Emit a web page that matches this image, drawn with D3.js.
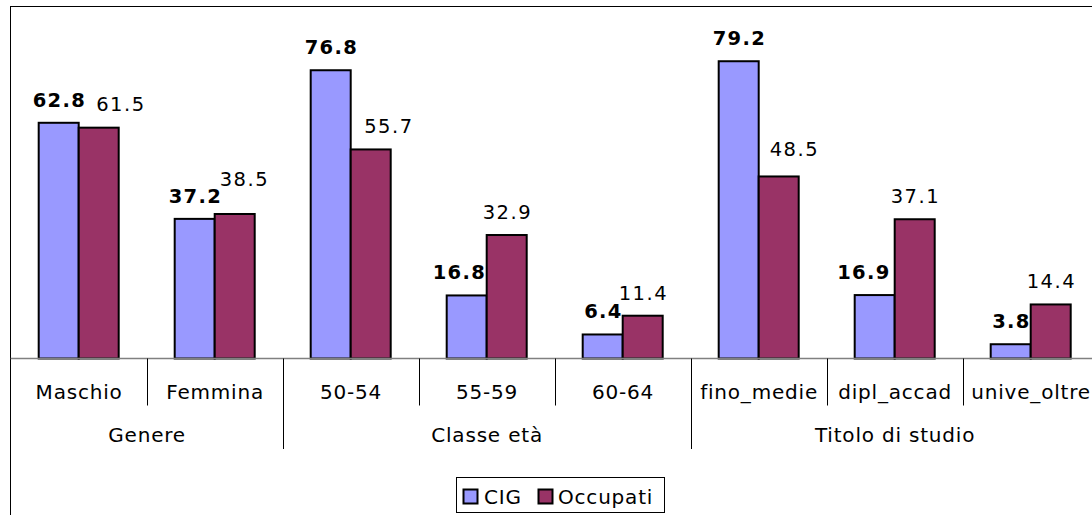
<!DOCTYPE html>
<html>
<head>
<meta charset="utf-8">
<script src="https://cdn.jsdelivr.net/npm/d3@7"></script>
<style>
  html, body { margin: 0; padding: 0; background: #fff; }
  svg { display: block; font-family: "DejaVu Sans", Verdana, sans-serif; }
</style>
</head>
<body>
<svg id="chart" width="1092" height="515"></svg>
<script>
// Categories, their groups, and the two series
const categories = ["Maschio", "Femmina", "50-54", "55-59", "60-64", "fino_medie", "dipl_accad", "unive_oltre"];
const groups = [
  { name: "Genere", start: 0, count: 2 },
  { name: "Classe età", start: 2, count: 3 },
  { name: "Titolo di studio", start: 5, count: 3 }
];
const seriesNames = ["CIG", "Occupati"];
const cigValues = [62.8, 37.2, 76.8, 16.8, 6.4, 79.2, 16.9, 3.8];
const occupatiValues = [61.5, 38.5, 55.7, 32.9, 11.4, 48.5, 37.1, 14.4];

// Layout
const colors = { CIG: "#9999ff", Occupati: "#993366" };
const baseline = 358.5;
const plotLeft = 10.7;
const bandWidth = 136;
// small shifts that keep neighbouring value labels apart
const labelShift = {
  CIG:      { dx: [0, 0, 0, -8, 0, 0, -11.5, 0], dy: [0, 0, 0, 0, 0, 0, 0, 0] },
  Occupati: { dx: [21.5, 9, 17.5, 0, 0, 15, 0, 0], dy: [-1, -12, 0, 0, 0, -4, 0, 0] }
};

const svg = d3.select("#chart");

const x = d3.scaleBand()
  .domain(categories)
  .range([plotLeft, plotLeft + bandWidth * categories.length])
  .paddingInner(0).paddingOuter(0);

const xs = d3.scaleBand()
  .domain(seriesNames)
  .range([0, x.bandwidth()])
  .paddingInner(0).paddingOuter(0.7);

const y = d3.scaleLinear().domain([0, 90]).range([baseline, baseline - 337.8]);

const rows = categories.map((c, i) => ({
  category: c, i,
  values: [
    { series: "CIG", value: cigValues[i] },
    { series: "Occupati", value: occupatiValues[i] }
  ]
}));

// outer frame
svg.append("rect")
  .attr("x", 10.5).attr("y", 6.5)
  .attr("width", 1200).attr("height", 600)
  .attr("fill", "none").attr("stroke", "#000").attr("stroke-width", 1);

// bars
const cat = svg.append("g").selectAll("g").data(rows).join("g")
  .attr("transform", d => `translate(${x(d.category)},0)`);

cat.selectAll("rect").data(d => d.values).join("rect")
  .attr("x", d => xs(d.series))
  .attr("y", d => y(d.value))
  .attr("width", xs.bandwidth())
  .attr("height", d => y(0) - y(d.value))
  .attr("fill", d => colors[d.series])
  .attr("stroke", "#000")
  .attr("stroke-width", 2);

// value labels
cat.selectAll("text").data(d => d.values.map(v => ({ ...v, i: d.i }))).join("text")
  .attr("x", d => xs(d.series) + xs.bandwidth() / 2 + labelShift[d.series].dx[d.i] + 0.7)
  .attr("y", d => y(d.value) - 16 + labelShift[d.series].dy[d.i])
  .attr("text-anchor", "middle")
  .attr("font-size", 19.5)
  .attr("letter-spacing", d => d.series === "CIG" ? 1.3 : 1.5)
  .attr("font-weight", d => d.series === "CIG" ? "bold" : "normal")
  .attr("fill", "#000")
  .text(d => d.value.toFixed(1));

// category axis line
svg.append("line")
  .attr("x1", plotLeft).attr("x2", 1092)
  .attr("y1", baseline).attr("y2", baseline)
  .attr("stroke", "#808080").attr("stroke-width", 1.5);

// separators between categories (longer at group boundaries)
const groupStarts = new Set(groups.map(g => g.start));
categories.forEach((c, i) => {
  if (i === 0) return;
  const xx = Math.round(x(c)) + 0.5;
  svg.append("line")
    .attr("x1", xx).attr("x2", xx)
    .attr("y1", baseline).attr("y2", groupStarts.has(i) ? 449 : 405.5)
    .attr("stroke", "#000").attr("stroke-width", 1);
});

// category labels
svg.append("g").selectAll("text").data(categories).join("text")
  .attr("x", d => x(d) + x.bandwidth() / 2 + 0.4)
  .attr("y", 399)
  .attr("text-anchor", "middle")
  .attr("font-size", 20)
  .attr("letter-spacing", 0.8)
  .attr("fill", "#000")
  .text(d => d);

// group labels
svg.append("g").selectAll("text").data(groups).join("text")
  .attr("x", g => x(categories[g.start]) + (x.bandwidth() * g.count) / 2 + 0.4)
  .attr("y", 442)
  .attr("text-anchor", "middle")
  .attr("font-size", 20)
  .attr("letter-spacing", 0.8)
  .attr("fill", "#000")
  .text(g => g.name);

// legend
const legend = svg.append("g");
legend.append("rect")
  .attr("x", 456.5).attr("y", 477.5)
  .attr("width", 208).attr("height", 35)
  .attr("fill", "#fff").attr("stroke", "#000").attr("stroke-width", 1);

const legendItems = [
  { series: "CIG", sx: 463, tx: 484 },
  { series: "Occupati", sx: 538, tx: 558 }
];
legendItems.forEach(it => {
  legend.append("rect")
    .attr("x", it.sx + 0.5).attr("y", 489.5)
    .attr("width", 14).attr("height", 14)
    .attr("fill", colors[it.series]).attr("stroke", "#000").attr("stroke-width", 2);
  legend.append("text")
    .attr("x", it.tx).attr("y", 504)
    .attr("font-size", 20)
    .attr("letter-spacing", 0.8)
    .attr("fill", "#000")
    .text(it.series);
});
</script>
</body>
</html>
